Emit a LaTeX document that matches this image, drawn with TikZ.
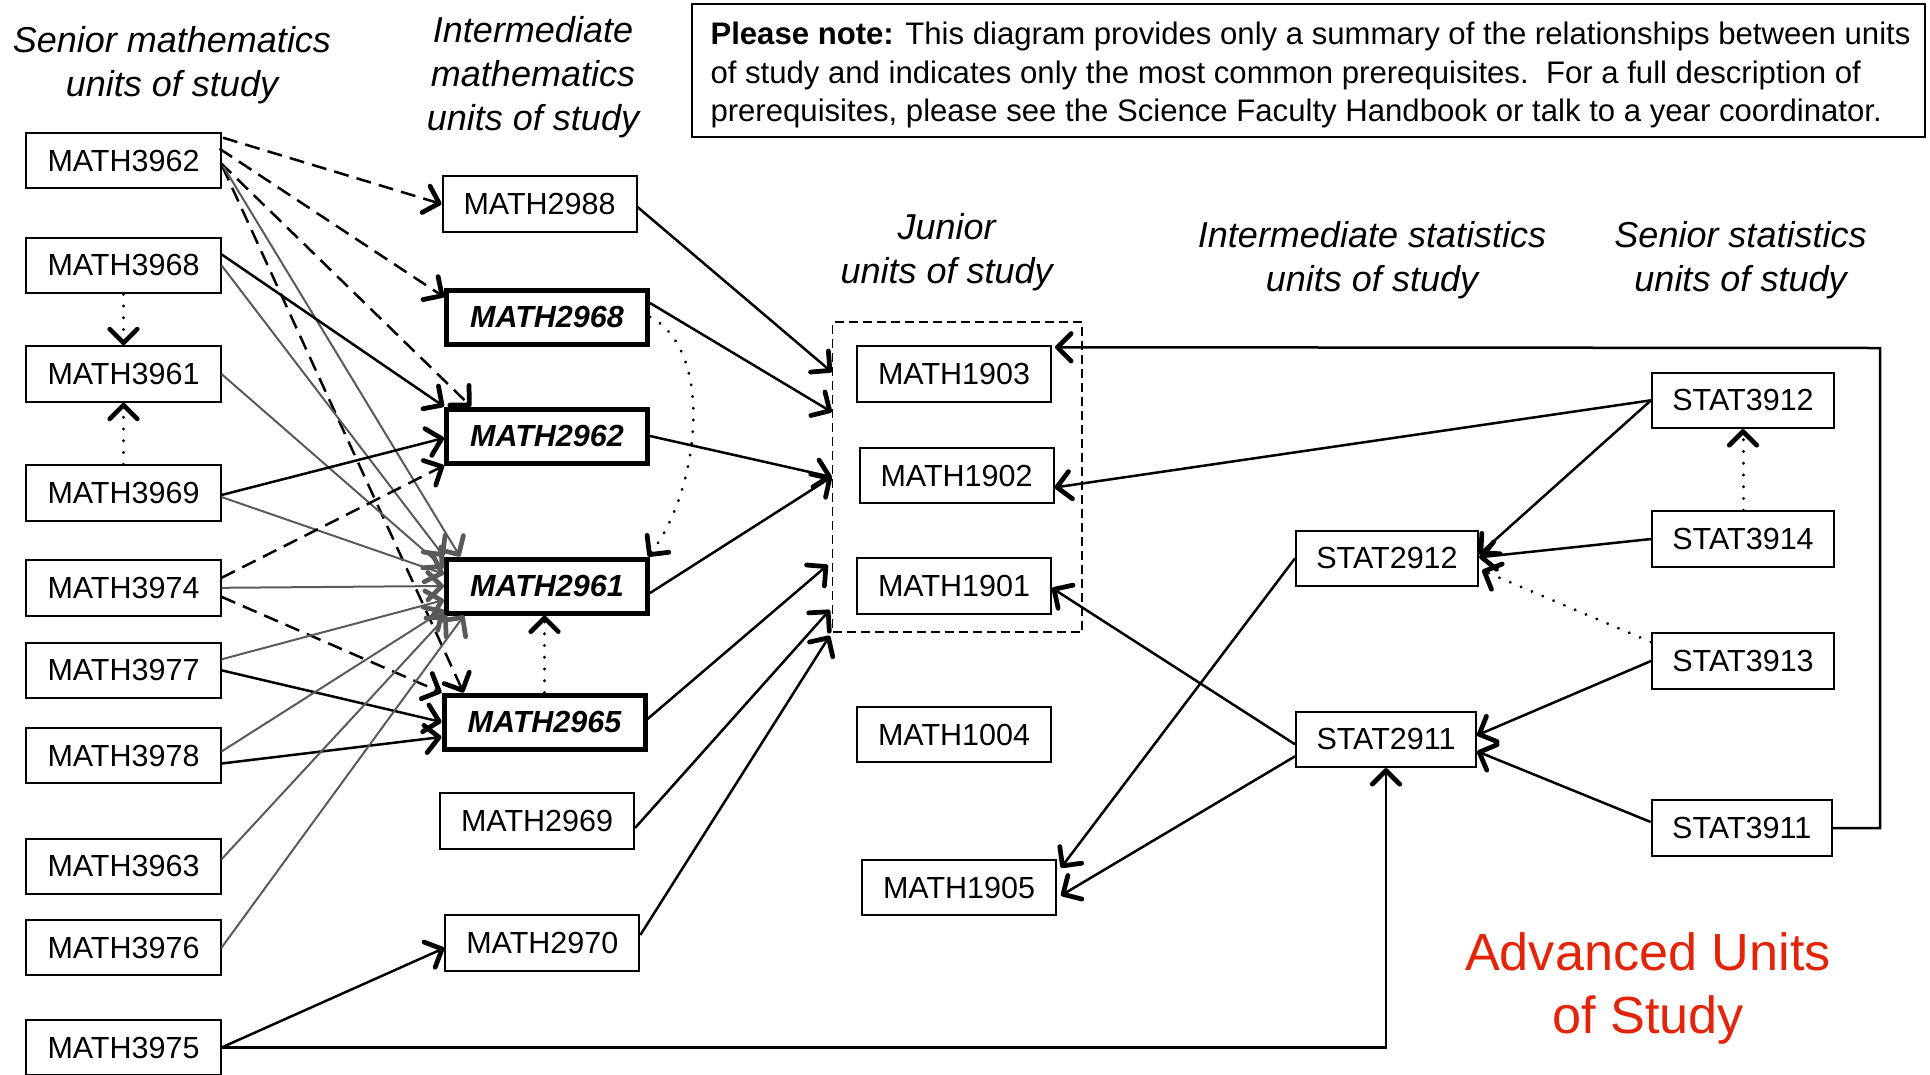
\documentclass[tikz,border=0pt]{standalone}
\usepackage{fontspec}
\setmainfont{Liberation Sans}
\usetikzlibrary{arrows.meta,calc}
\definecolor{linegray}{RGB}{90,90,90}
\definecolor{advred}{RGB}{228,36,8}
\begin{document}
\begin{tikzpicture}[x=0.4pt,y=-0.4pt,
  unit/.style={draw, line width=0.8pt, minimum width=77.6pt, minimum height=22.2pt, inner sep=0pt, font=\fontsize{12.2}{14.6}\selectfont},
  statunit/.style={unit, minimum width=72.8pt},
  keyunit/.style={unit, line width=2pt, minimum width=80.4pt, minimum height=21.6pt, font=\fontsize{12.2}{14.6}\selectfont\bfseries\itshape},
  coltitle/.style={font=\fontsize{14.4}{17.6}\selectfont\itshape, align=center, inner sep=0pt},
  conn/.style={line width=1pt, -{Straight Barb[length=5.5pt,width=11pt,line width=1.9pt,round]}},
  gconn/.style={conn, draw=linegray, line width=0.8pt},
  dconn/.style={conn, dash pattern=on 6pt off 3.3pt},
  pconn/.style={conn, dash pattern=on 0.1pt off 4.6pt, line cap=round, line width=1.2pt}
]
\useasboundingbox (0,0) rectangle (1930,1074);

% column titles
\node[coltitle] (tsm) at (172,65) {Senior mathematics\\units of study};
\node[coltitle] (tim) at (533,77) {Intermediate\\mathematics\\units of study};
\node[coltitle] (tj) at (946.6,252) {Junior\\units of study};
\node[coltitle] (tis) at (1372,260) {Intermediate statistics\\units of study};
\node[coltitle] (tss) at (1740.5,260) {Senior statistics\\units of study};

% note
\node[draw, line width=0.8pt, minimum width=493.2pt, minimum height=53.2pt, inner sep=0pt] (notebox) at (1308.5,70.5) {};
\node[anchor=west, align=left, inner sep=0pt, font=\fontsize{12.45}{15.3}\selectfont] (note) at (710,75)
  {\textbf{Please note:} This diagram provides only a summary of the relationships between units\\of study and indicates only the most common prerequisites.\ \ For a full description of\\prerequisites, please see the Science Faculty Handbook or talk to a year coordinator.};

% senior maths
\node[unit] (m3962) at (123.5,160.7) {MATH3962};
\node[unit] (m3968) at (123.5,265.3) {MATH3968};
\node[unit] (m3961) at (123.5,374) {MATH3961};
\node[unit] (m3969) at (123.5,493) {MATH3969};
\node[unit] (m3974) at (123.5,587.8) {MATH3974};
\node[unit] (m3977) at (123.5,670.3) {MATH3977};
\node[unit] (m3978) at (123.5,755.5) {MATH3978};
\node[unit] (m3963) at (123.5,866.3) {MATH3963};
\node[unit] (m3976) at (123.5,947.7) {MATH3976};
\node[unit] (m3975) at (123.5,1047.5) {MATH3975};

% intermediate maths
\node[unit] (m2988) at (539.5,204) {MATH2988};
\node[keyunit] (m2968) at (547,317) {MATH2968};
\node[keyunit] (m2962) at (547,436) {MATH2962};
\node[keyunit] (m2961) at (547,586) {MATH2961};
\node[keyunit] (m2965) at (544.5,722) {MATH2965};
\node[unit] (m2969) at (537,821) {MATH2969};
\node[unit] (m2970) at (542.3,943) {MATH2970};

% junior
\node[draw, line width=0.6pt, dash pattern=on 3.6pt off 2pt, minimum width=99.8pt, minimum height=124pt, inner sep=0pt] (jr) at (957.25,477) {};
\node[unit] (m1903) at (954,374) {MATH1903};
\node[unit] (m1902) at (956.5,475.5) {MATH1902};
\node[unit] (m1901) at (954,586) {MATH1901};
\node[unit] (m1004) at (954,734.5) {MATH1004};
\node[unit] (m1905) at (959,887.5) {MATH1905};

% statistics
\node[statunit] (s2912) at (1387,558.3) {STAT2912};
\node[statunit, minimum width=72pt] (s2911) at (1386,739.3) {STAT2911};
\node[statunit] (s3912) at (1743,400.3) {STAT3912};
\node[statunit] (s3914) at (1743,539) {STAT3914};
\node[statunit] (s3913) at (1743,661) {STAT3913};
\node[statunit, minimum width=72pt] (s3911) at (1741.7,828) {STAT3911};

\node[font=\fontsize{20.9}{25.2}\selectfont, text=advred, align=center, inner sep=0pt] (adv) at (1648,988) {Advanced Units\\of Study};

% ---- connectors: senior -> intermediate maths
\draw[dconn] ($(m3962.east)+(1.5,-23)$) -- (m2988.west);
\draw[dconn] ($(m3962.east)+(-2,-12)$) -- ($(m2968.west)+(0,-20)$);
\draw[dconn] ($(m3962.east)+(-1,2)$) -- ($(m2962.north west)+(27,0)$);
\draw[dconn] ($(m3962.east)+(1,6)$) -- ($(m2965.north west)+(22,0)$);
\draw[gconn] ($(m3962.east)+(2,6)$) -- ($(m2961.north west)+(16,0)$);

\draw[conn] ($(m3968.east)+(0,-11)$) -- (m2962.north west);
\draw[gconn] (m3968.east) -- (m2961.north west);

\draw[gconn] (m3961.east) -- ($(m2961.west)+(0,-18)$);

\draw[conn] ($(m3969.east)+(0,2)$) -- ($(m2962.west)+(0,2)$);
\draw[gconn] ($(m3969.east)+(0,4)$) -- ($(m2961.west)+(0,-12)$);

\draw[dconn] ($(m3974.east)+(0,-10)$) -- (m2962.south west);
\draw[gconn] (m3974.east) -- (m2961.west);
\draw[dconn] ($(m3974.east)+(0,9)$) -- (m2965.north west);

\draw[gconn] ($(m3977.east)+(0,-11)$) -- ($(m2961.west)+(0,14)$);
\draw[conn] (m3977.east) -- (m2965.west);

\draw[gconn] ($(m3978.east)+(0,-4)$) -- ($(m2961.west)+(0,24)$);
\draw[conn] ($(m3978.east)+(0,8)$) -- ($(m2965.west)+(0,15)$);

\draw[gconn] ($(m3963.east)+(0,-7)$) -- ($(m2961.south west)+(3,0)$);
\draw[gconn] (m3976.east) -- ($(m2961.south west)+(20,0)$);

\draw[conn] (m3975.east) -- ($(m2970.west)+(0,5)$);
\draw[conn] (m3975.east) -| (s2911.south);

% dotted
\draw[pconn] (m3968.south) -- (m3961.north);
\draw[pconn] (m3969.north) -- (m3961.south);
\draw[pconn] (m2965.north) -- (m2965.north |- m2961.south);
\draw[pconn] (m2968.east) .. controls (715,350) and (700,490) .. ($(m2961.north east)+(-2,0)$);

% intermediate -> junior
\draw[conn] ($(m2988.east)+(0,3)$) -- ($(jr.west)+(0,-105)$);
\draw[conn] ($(m2968.east)+(0,-14)$) -- ($(jr.west)+(0,-65)$);
\draw[conn] (m2962.east) -- (jr.west);
\draw[conn] ($(m2961.east)+(0,7)$) -- (jr.west);
\draw[conn] ($(m2965.east)+(0,-3)$) -- ($(jr.west)+(-4,88)$);
\draw[conn] ($(m2969.east)+(0,7)$) -- ($(jr.west)+(-2,133)$);
\draw[conn] ($(m2970.east)+(0,-8)$) -- ($(jr.south west)+(-2,3)$);

% statistics
\draw[conn] (s3912.west) -- ($(m1902.east)+(0,12)$);
\draw[conn] (s3912.west) -- ($(s2912.east)+(0,-4)$);
\draw[conn] (s3914.west) -- ($(s2912.east)+(0,-1)$);
\draw[pconn] ($(s3913.west)+(0,-19)$) -- ($(s2912.east)+(3,12)$);
\draw[conn] (s3913.west) -- ($(s2911.east)+(0,-4)$);
\draw[conn] ($(s3911.west)+(0,-6)$) -- ($(s2911.east)+(0,12)$);
\draw[pconn] (s3914.north) -- (s3912.south);
\coordinate (loop) at (1880,348);
\draw[conn] (s3911.east) -| (loop) -- ($(m1903.north east)+(3,2)$);

\draw[conn] (s2912.west) -- ($(m1905.north east)+(4,9)$);
\draw[conn] ($(s2911.west)+(0,5)$) -- ($(m1901.east)+(0,2)$);
\draw[conn] ($(s2911.west)+(0,17)$) -- ($(m1905.east)+(4,8)$);
\end{tikzpicture}
\end{document}
